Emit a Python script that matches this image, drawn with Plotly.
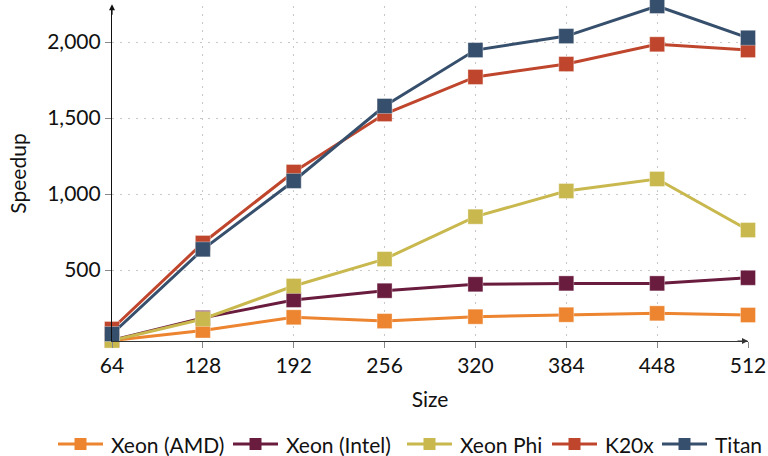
import plotly.graph_objects as go

sizes = [64, 128, 192, 256, 320, 384, 448, 512]

xeon_amd = [36, 102, 189, 164, 193, 206, 215, 204]
xeon_intel = [38, 185, 303, 364, 406, 412, 412, 449]
xeon_phi = [36, 178, 395, 572, 851, 1020, 1099, 763]
k20x = [112, 678, 1145, 1526, 1770, 1855, 1985, 1947]
titan = [79, 636, 1086, 1579, 1947, 2039, 2237, 2028]

series_names = ["Xeon (AMD)", "Xeon (Intel)", "Xeon Phi", "K20x", "Titan"]
series_values = [xeon_amd, xeon_intel, xeon_phi, k20x, titan]
series_colors = ["#EC8430", "#6A1C3E", "#C8B84E", "#BF462C", "#364F6C"]

y_ticks = [500, 1000, 1500, 2000]
y_tick_text = ["500", "1,000", "1,500", "2,000"]

FONT = "Lato"
FS = 21

# page geometry (pixels)
W, H = 768, 456
ML, MR, MT, MB = 112, 20, 6, 115
PW, PH = W - ML - MR, H - MT - MB

fig = go.Figure()
for name, vals, col in zip(series_names, series_values, series_colors):
    fig.add_trace(go.Scatter(
        x=sizes, y=vals, name=name, mode="lines+markers",
        line=dict(color=col, width=3),
        marker=dict(symbol="square", size=15, color=col,
                    line=dict(color="rgba(255,255,255,0.35)", width=1)),
        cliponaxis=False, showlegend=False,
    ))

fig.update_layout(
    width=W, height=H,
    margin=dict(l=ML, r=MR, t=MT, b=MB, autoexpand=False),
    paper_bgcolor="white", plot_bgcolor="white",
    font=dict(family=FONT, size=FS, color="#111111"),
    showlegend=False,
    xaxis=dict(
        range=[64, 512], tickvals=sizes, ticktext=[str(s) for s in sizes],
        showgrid=True, gridcolor="#c8c8c8", griddash="2px,6px", gridwidth=1,
        showline=True, linecolor="#333333", linewidth=1.2,
        ticks="outside", ticklen=6, tickcolor="#888888",
        zeroline=False,
        title=dict(text="Size", standoff=16, font=dict(size=FS)),
    ),
    yaxis=dict(
        range=[33, 2237], tickvals=y_ticks, ticktext=y_tick_text,
        showgrid=True, gridcolor="#c8c8c8", griddash="2px,6px", gridwidth=1,
        showline=True, linecolor="#111111", linewidth=1.2,
        ticks="outside", ticklen=6, tickcolor="#888888",
        zeroline=False,
        title=dict(text="Speedup", standoff=14, font=dict(size=FS)),
    ),
)

# arrow heads on both axes
fig.add_annotation(x=1.0, y=0, xref="paper", yref="paper", ax=-12, ay=0,
                   showarrow=True, arrowhead=2, arrowsize=1, arrowwidth=1.2,
                   arrowcolor="#333333", text="")
fig.add_annotation(x=0, y=1.005, xref="paper", yref="paper", ax=0, ay=12,
                   showarrow=True, arrowhead=2, arrowsize=1, arrowwidth=1.2,
                   arrowcolor="#111111", text="")


def px_x(px):
    return (px - ML) / PW


def px_y(py):
    return (H - MB - py) / PH


# legend row below the plot: line + square key, then the label
legend_left = [58, 233, 407, 552, 662]
key_len, key_sq, legend_y = 45, 12, 444
for left, name, col in zip(legend_left, series_names, series_colors):
    fig.add_shape(type="line", xref="paper", yref="paper",
                  x0=px_x(left), x1=px_x(left + key_len),
                  y0=px_y(legend_y), y1=px_y(legend_y),
                  line=dict(color=col, width=3))
    cx = left + key_len / 2
    fig.add_shape(type="rect", xref="paper", yref="paper",
                  x0=px_x(cx - key_sq / 2), x1=px_x(cx + key_sq / 2),
                  y0=px_y(legend_y + key_sq / 2), y1=px_y(legend_y - key_sq / 2),
                  fillcolor=col, line=dict(width=0))
    fig.add_annotation(x=px_x(left + key_len + 6), y=px_y(legend_y),
                       xref="paper", yref="paper", xanchor="left", yanchor="middle",
                       text=name, showarrow=False,
                       font=dict(family=FONT, size=FS, color="#111111"))

fig.write_html("out.html")
